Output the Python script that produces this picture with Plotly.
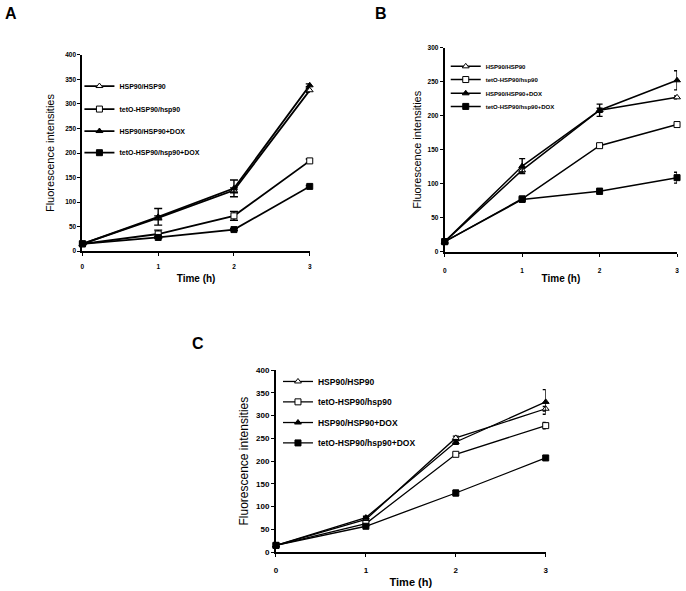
import plotly.graph_objects as go

W, H = 686, 591

times = [0, 1, 2, 3]
series_names = ["HSP90/HSP90", "tetO-HSP90/hsp90", "HSP90/HSP90+DOX", "tetO-HSP90/hsp90+DOX"]

# Panel A
a_hsp = [15, 68, 124, 328]
a_teto = [15, 35, 72, 184]
a_hsp_dox = [15, 70, 128, 338]
a_teto_dox = [15, 28, 44, 132]
a_hsp_err = [1, 4, 5, 4]
a_teto_err = [1, 8, 9, 4]
a_hsp_dox_err = [1, 17, 17, 3]
a_teto_dox_err = [1, 2, 2, 2]

# Panel B
b_hsp = [15, 120, 208, 227]
b_teto = [15, 78, 156, 187]
b_hsp_dox = [15, 126, 208, 252]
b_teto_dox = [15, 77, 89, 109]
b_hsp_err = [1, 4, 3, 2]
b_teto_err = [1, 2, 3, 2]
b_hsp_dox_err = [1, 11, 9, 14]
b_teto_dox_err = [1, 3, 4, 8]

# Panel C
c_hsp = [15, 72, 251, 315]
c_teto = [15, 63, 215, 278]
c_hsp_dox = [15, 76, 242, 330]
c_teto_dox = [15, 57, 130, 207]
c_hsp_err = [1, 3, 4, 5]
c_teto_err = [1, 3, 3, 7]
c_hsp_dox_err = [1, 3, 5, 27]
c_teto_dox_err = [1, 2, 6, 5]

y_ticks_A = [0, 50, 100, 150, 200, 250, 300, 350, 400]
y_ticks_B = [0, 50, 100, 150, 200, 250, 300]
y_ticks_C = [0, 50, 100, 150, 200, 250, 300, 350, 400]
x_ticks = [0, 1, 2, 3]

symbols = ["triangle-up", "square", "triangle-up", "square"]
fills = ["#ffffff", "#ffffff", "#000000", "#000000"]

panels = [
    dict(key="A", xa="x", ya="y", vals=[a_hsp, a_teto, a_hsp_dox, a_teto_dox],
         errs=[a_hsp_err, a_teto_err, a_hsp_dox_err, a_teto_dox_err],
         xd=(81, 310), yd=(51.7, 251), yr=400, yt=y_ticks_A, tf=6.5, lf=7, tt=10, yf=11,
         leg_x=78, leg_y=[83.3, 106.7, 129, 151], cap=4, lw=1.8, ms=6,
         letter=(9, 10), xlab_pad=5, ytitle_so=8, xtitle_so=6),
    dict(key="B", xa="x2", ya="y2", vals=[b_hsp, b_teto, b_hsp_dox, b_teto_dox],
         errs=[b_hsp_err, b_teto_err, b_hsp_dox_err, b_teto_dox_err],
         xd=(446, 680), yd=(44.3, 251.7), yr=300, yt=y_ticks_B, tf=6.5, lf=6, tt=10, yf=11,
         leg_x=447, leg_y=[63.3, 76.7, 90.7, 104], cap=3, lw=1.5, ms=6,
         letter=(382, 10), xlab_pad=8, ytitle_so=4, xtitle_so=2),
    dict(key="C", xa="x3", ya="y3", vals=[c_hsp, c_teto, c_hsp_dox, c_teto_dox],
         errs=[c_hsp_err, c_teto_err, c_hsp_dox_err, c_teto_dox_err],
         xd=(276, 547.7), yd=(371.7, 556.7), yr=400, yt=y_ticks_C, tf=8, lf=8.5, tt=11, yf=12,
         leg_x=278, leg_y=[383.3, 404, 425, 445.7], cap=3, lw=1.3, ms=6,
         letter=(197, 345), xlab_pad=6, ytitle_so=5, xtitle_so=4),
]

fig = go.Figure()
layout_extra = {}
annotations = []
leg_idx = 0
for p in panels:
    for i in range(4):
        leg_idx += 1
        lname = "legend" if leg_idx == 1 else f"legend{leg_idx}"
        fig.add_trace(go.Scatter(
            x=times, y=p["vals"][i], mode="lines+markers", name=series_names[i],
            xaxis=p["xa"], yaxis=p["ya"], legend=lname, cliponaxis=False,
            line=dict(color="#000000", width=p["lw"]),
            marker=dict(symbol=symbols[i], size=p["ms"], color=fills[i],
                        line=dict(color="#000000", width=1)),
            error_y=dict(type="data", array=p["errs"][i], visible=True,
                         color="#000000", thickness=1.4, width=p["cap"]),
        ))
        layout_extra[lname] = dict(
            x=p["leg_x"] / W, y=1 - p["leg_y"][i] / H, xanchor="left", yanchor="middle",
            bgcolor="rgba(0,0,0,0)", borderwidth=0, itemwidth=30,
            font=dict(family="Arial", size=p["lf"], color="#000000", weight="bold"),
        )
    xsuf = p["xa"][1:]
    ysuf = p["ya"][1:]
    xname = "xaxis" + xsuf
    yname = "yaxis" + ysuf
    layout_extra[xname] = dict(
        domain=[p["xd"][0] / W, p["xd"][1] / W], anchor=p["ya"], range=[0, 3],
        tickvals=x_ticks, ticks="outside", ticklen=3, tickwidth=1.2, tickcolor="#000000",
        showline=True, linecolor="#000000", linewidth=2, showgrid=False, zeroline=False,
        ticklabelstandoff=p["xlab_pad"],
        tickfont=dict(family="Arial", size=p["tf"], color="#000000", weight="bold"),
        title=dict(text="Time (h)", standoff=p["xtitle_so"],
                   font=dict(family="Arial", size=p["tt"], color="#000000", weight="bold")),
    )
    layout_extra[yname] = dict(
        domain=[1 - p["yd"][1] / H, 1 - p["yd"][0] / H], anchor=p["xa"], range=[0, p["yr"]],
        tickvals=p["yt"], ticks="outside", ticklen=3, tickwidth=1.2, tickcolor="#000000",
        showline=True, linecolor="#000000", linewidth=2, showgrid=False, zeroline=False,
        tickfont=dict(family="Arial", size=p["tf"], color="#000000", weight="bold"),
        title=dict(text="Fluorescence intensities", standoff=p["ytitle_so"],
                   font=dict(family="Arial", size=p["yf"], color="#000000")),
    )
    annotations.append(dict(
        text=p["key"], x=p["letter"][0] / W, y=1 - p["letter"][1] / H, xref="paper", yref="paper",
        showarrow=False, xanchor="center", yanchor="middle",
        font=dict(family="Arial", size=16, color="#000000", weight="bold"),
    ))

fig.update_layout(
    width=W, height=H, margin=dict(l=0, r=0, t=0, b=0),
    paper_bgcolor="white", plot_bgcolor="white", showlegend=True,
    annotations=annotations, **layout_extra,
)

fig.write_html(
    "out.html",
    config={"displayModeBar": False},
    post_script="document.body.style.margin='0';document.body.style.padding='0';"
                "document.body.style.overflow='hidden';",
)
